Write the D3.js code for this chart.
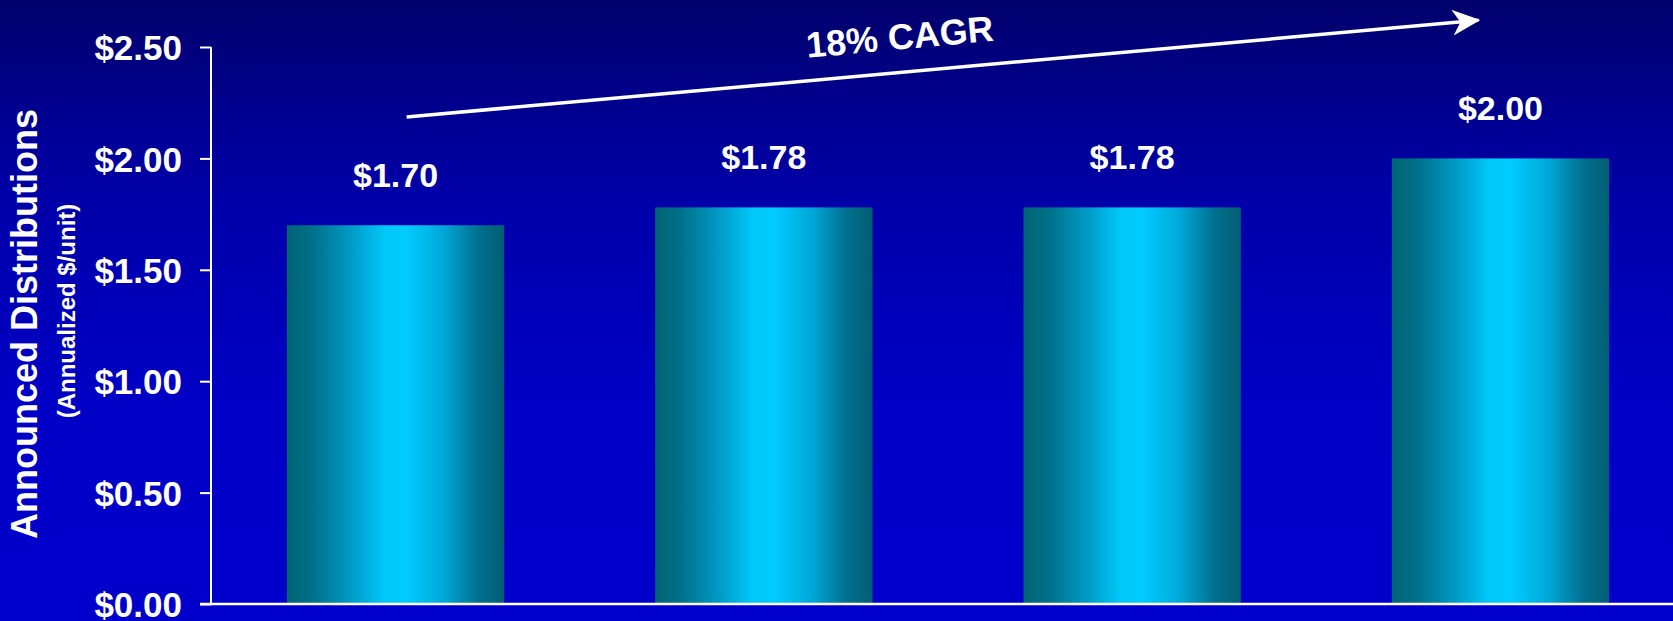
<!DOCTYPE html>
<html>
<head>
<meta charset="utf-8">
<script src="https://cdn.jsdelivr.net/npm/d3@7"></script>
<style>
  html, body { margin: 0; padding: 0; background: #0000cc; }
  svg { display: block; }
  text { font-family: "Liberation Sans", Arial, sans-serif; font-weight: bold; fill: #ffffff; }
</style>
</head>
<body>
<svg id="chart" width="1673" height="621"></svg>
<script>
// ---- data ----
const categories = ["P1", "P2", "P3", "P4"];
const values = [1.70, 1.78, 1.78, 2.00];
const valueLabels = ["$1.70", "$1.78", "$1.78", "$2.00"];
const yTicks = [0, 0.5, 1.0, 1.5, 2.0, 2.5];
const yTickLabels = ["$0.00", "$0.50", "$1.00", "$1.50", "$2.00", "$2.50"];
const yTitle = "Announced Distributions";
const ySubtitle = "(Annualized $/unit)";
const cagrLabel = "18% CAGR";
// arrow endpoints in data units: [category index (fractional), value]
const arrowStart = [0.03, 2.186];
const arrowEnd = [2.94, 2.62];

// ---- layout ----
const W = 1673, H = 621;
const x0 = 211, y0 = 604, yTop = 47;
const svg = d3.select("#chart");

const defs = svg.append("defs");
const bg = defs.append("linearGradient").attr("id", "bg").attr("x1", 0).attr("y1", 0).attr("x2", 0).attr("y2", 1);
[[0, "#00006c"], [0.21, "#000096"], [0.33, "#0000aa"], [0.65, "#0000c6"], [1, "#0000cc"]]
  .forEach(([o, c]) => bg.append("stop").attr("offset", o).attr("stop-color", c));
const bar = defs.append("linearGradient").attr("id", "bar").attr("x1", 0).attr("y1", 0).attr("x2", 1).attr("y2", 0);
[[0, "#006474"], [0.12, "#00708a"], [0.3, "#009cc8"], [0.45, "#00c8f8"], [0.55, "#00ccff"], [0.72, "#00a8d8"], [0.88, "#007090"], [1, "#005e72"]]
  .forEach(([o, c]) => bar.append("stop").attr("offset", o).attr("stop-color", c));
const arrowMarker = defs.append("marker").attr("id", "arrowhead")
  .attr("viewBox", "0 0 28 26").attr("refX", 26).attr("refY", 13)
  .attr("markerWidth", 28).attr("markerHeight", 26).attr("markerUnits", "userSpaceOnUse")
  .attr("orient", "auto");
arrowMarker.append("path").attr("d", "M0,0 L28,13 L0,26 L8,13 Z").attr("fill", "#ffffff");

svg.append("rect").attr("width", W).attr("height", H).attr("fill", "url(#bg)");

const x = d3.scaleBand().domain(categories).range([x0, 1685]).paddingInner(0.41).paddingOuter(0.206);
const y = d3.scaleLinear().domain([0, 2.5]).range([y0, yTop]);
const xi = d3.scaleLinear().domain([0, 1]).range([x(categories[0]) + x.bandwidth() / 2, x(categories[1]) + x.bandwidth() / 2]);

// bars
svg.append("g").selectAll("rect").data(values).join("rect")
  .attr("x", (d, i) => x(categories[i]))
  .attr("y", d => y(d))
  .attr("width", x.bandwidth())
  .attr("height", d => y0 - y(d))
  .attr("fill", "url(#bar)");

// value labels
svg.append("g").selectAll("text").data(values).join("text")
  .attr("x", (d, i) => x(categories[i]) + x.bandwidth() / 2)
  .attr("y", d => y(d) - 38)
  .attr("text-anchor", "middle")
  .attr("font-size", 34)
  .text((d, i) => valueLabels[i]);

// y axis
const yAxis = d3.axisLeft(y).tickValues(yTicks).tickFormat((d, i) => yTickLabels[i]).tickSize(11).tickPadding(18);
const gy = svg.append("g").attr("transform", `translate(${x0},0)`).call(yAxis);
gy.select(".domain").attr("stroke", "#ffffff").attr("stroke-width", 2).attr("d", `M0,${yTop}V${y0}`);
gy.selectAll(".tick line").attr("stroke", "#ffffff").attr("stroke-width", 2);
gy.selectAll(".tick text").attr("font-size", 35).attr("fill", "#ffffff")
  .attr("font-family", "Liberation Sans, Arial, sans-serif").attr("font-weight", "bold").attr("dy", "0.36em");

// baseline
svg.append("line").attr("x1", x0 - 11).attr("x2", W).attr("y1", y(0)).attr("y2", y(0))
  .attr("stroke", "#ffffff").attr("stroke-width", 2.5);

// y titles
svg.append("text").attr("transform", `translate(37,324) rotate(-90)`)
  .attr("text-anchor", "middle").attr("font-size", 36).text(yTitle);
svg.append("text").attr("transform", `translate(75,311) rotate(-90)`)
  .attr("text-anchor", "middle").attr("font-size", 24).text(ySubtitle);

// CAGR arrow
const ax1 = xi(arrowStart[0]), ay1 = y(arrowStart[1]), ax2 = xi(arrowEnd[0]), ay2 = y(arrowEnd[1]);
svg.append("line").attr("x1", ax1).attr("y1", ay1).attr("x2", ax2).attr("y2", ay2)
  .attr("stroke", "#ffffff").attr("stroke-width", 3.5).attr("marker-end", "url(#arrowhead)");
const ang = Math.atan2(ay2 - ay1, ax2 - ax1) * 180 / Math.PI;
svg.append("text").attr("transform", `translate(${xi(1.372)},${y(2.49)}) rotate(${ang})`)
  .attr("text-anchor", "middle").attr("font-size", 36).text(cagrLabel);
</script>
</body>
</html>
